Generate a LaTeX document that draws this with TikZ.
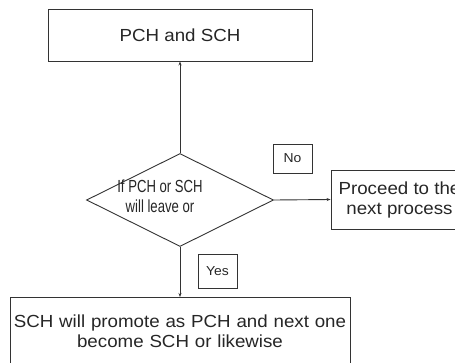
\documentclass[tikz,border=0pt]{standalone}
\usepackage{fontspec}
\setmainfont{Liberation Sans}[FakeStretch=1.07]
\newfontfamily\narrowfont{Liberation Sans}[FakeStretch=0.75]
\usetikzlibrary{shapes.geometric,arrows.meta}

\begin{document}
\begin{tikzpicture}[x=1pt,y=-1pt,
  line/.style={draw=black!80,line width=0.9pt},
  box/.style={line,rectangle,inner sep=0pt,align=center,
    font=\fontsize{17.5}{20}\selectfont,text=black!85},
  tag/.style={line,rectangle,inner sep=0pt,minimum width=39,minimum height=29,
    font=\fontsize{13}{15}\selectfont,text=black!85},
  flow/.style={line,-{Stealth[length=4pt,width=3pt]}}]
  \useasboundingbox (0,0) rectangle (455,362);
  \clip (0,0) rectangle (455,362);

  % top process box
  \node[box,minimum width=264,minimum height=52] (top) at (180,35) {PCH and SCH};

  % decision
  \node[line,diamond,minimum width=187,minimum height=93,inner sep=0pt] (dec) at (180,200) {};
  \node[align=center,inner sep=0pt,text=black!85,
    font=\narrowfont\fontsize{17.5}{20}\selectfont] (dectext) at (160,196)
    {If PCH or SCH\\will leave or};

  % branch: no
  \node[box,minimum width=137,minimum height=59] (next) at (399.5,199.5)
    {Proceed to the\\next process};
  \node[tag] (no) at (292.5,158.5) {No};

  % branch: yes
  \node[box,anchor=north,text width=340,inner ysep=17pt] (promote) at (180,297)
    {SCH will promote as PCH and next one\\become SCH or likewise};
  \node[tag,minimum height=34] (yes) at (217.5,271) {Yes};

  % connectors
  \draw[flow] (dec.north) -- (top.south);
  \draw[flow] (dec.east) -- (next.west);
  \draw[flow] (dec.south) -- (promote.north);
\end{tikzpicture}
\end{document}
